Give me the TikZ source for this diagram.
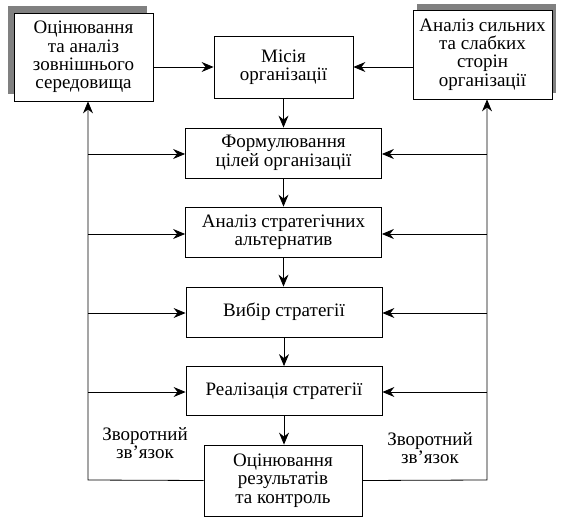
\documentclass[tikz,border=0pt]{standalone}
\usepackage{fontspec}
\setmainfont{Liberation Serif}
\usetikzlibrary{arrows.meta,shadows}
\begin{document}
\begin{tikzpicture}[x=1pt,y=-1pt,line width=0.8pt,
  txt/.style={font=\fontsize{19}{18.4}\selectfont, align=center},
  box/.style={txt, draw, fill=white, inner sep=0pt},
  arr/.style={-{Stealth[length=12pt,width=10pt,inset=4pt]}}]
\useasboundingbox (0,0) rectangle (564,521);
% boxes
\node[box, minimum width=139pt, minimum height=88pt,
  general shadow={shadow xshift=-6pt, shadow yshift=7pt, fill=black!50}]
  (ext) at (83.5,57) {Оцінювання\\та аналіз\\зовнішнього\\середовища};
\node[box, minimum width=139pt, minimum height=89pt,
  general shadow={shadow xshift=4pt, shadow yshift=6pt, fill=black!50}]
  (swot) at (482.5,54.5) {Аналіз сильних\\та слабких\\сторін\\організації};
\node[box, minimum width=139pt, minimum height=62pt] (mis) at (283.5,67) {Місія\\організації};
\node[box, minimum width=196pt, minimum height=50pt] (goal) at (283.5,153) {Формулювання\\цілей організації};
\node[box, minimum width=196pt, minimum height=50pt] (alt) at (283.5,232) {Аналіз стратегічних\\альтернатив};
\node[box, minimum width=196pt, minimum height=50pt] (choice) at (284,312) {Вибір стратегії};
\node[box, minimum width=196pt, minimum height=49pt] (impl) at (284,391) {Реалізація стратегії};
\node[box, minimum width=158pt, minimum height=71pt] (eval) at (283,480.5) {Оцінювання\\результатів\\та контроль};
% labels
\node[txt] (lfb) at (145,443) {Зворотний\\зв’язок};
\node[txt] (rfb) at (430,448) {Зворотний\\зв’язок};
% corner coordinates
\coordinate (lb) at (88,480);
\coordinate (rb) at (487,480);
\coordinate (l1) at (88,154);
\coordinate (l2) at (88,234);
\coordinate (l3) at (88,313);
\coordinate (l4) at (88,392);
\coordinate (r1) at (487,154);
\coordinate (r2) at (487,234);
\coordinate (r3) at (487,313);
\coordinate (r4) at (487,392);
% top arrows
\draw[arr] (ext.east |- mis.west) -- (mis.west);
\draw[arr] (swot.west |- mis.east) -- (mis.east);
% vertical chain
\draw[arr] (mis.south) -- (mis.south |- goal.north);
\draw[arr] (goal.south) -- (goal.south |- alt.north);
\draw[arr] (alt.south) -- (alt.south |- choice.north);
\draw[arr] (choice.south) -- (choice.south |- impl.north);
\draw[arr] (impl.south) -- (impl.south |- eval.north);
% feedback loops
\draw[arr] (eval.west) -- (lb) -- (lb |- ext.south);
\draw[arr] (eval.east) -- (rb) -- (rb |- swot.south);
\draw[arr] (l1) -- (l1 -| goal.west);
\draw[arr] (l2) -- (l2 -| alt.west);
\draw[arr] (l3) -- (l3 -| choice.west);
\draw[arr] (l4) -- (l4 -| impl.west);
\draw[arr] (r1) -- (r1 -| goal.east);
\draw[arr] (r2) -- (r2 -| alt.east);
\draw[arr] (r3) -- (r3 -| choice.east);
\draw[arr] (r4) -- (r4 -| impl.east);
\end{tikzpicture}
\end{document}
